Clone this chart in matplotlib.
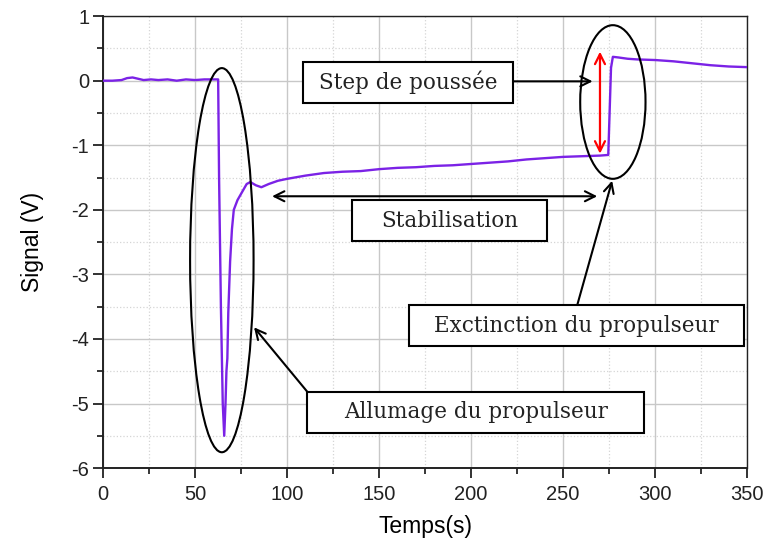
# import packages
import matplotlib.pyplot as plt
from matplotlib.patches import Ellipse, Rectangle
from matplotlib.ticker import MultipleLocator

plt.rcParams['axes.unicode_minus'] = False

# time (s) and signal (V)
temps = [0, 5, 10, 13, 16, 19, 22, 26, 30, 35, 40, 45, 50, 55, 60, 62.5,
         63, 64, 65, 65.8, 66.5, 67, 67.5, 68, 69, 70, 71, 73, 75, 78, 80,
         83, 86, 90, 95, 100, 110, 120, 130, 140, 150, 160, 170, 180, 190,
         200, 210, 220, 230, 240, 250, 260, 270, 274.5, 276, 277, 280, 285,
         290, 300, 310, 320, 330, 340, 350]
signal = [0.0, 0.0, 0.01, 0.04, 0.05, 0.03, 0.01, 0.02, 0.01, 0.02, 0.0,
          0.02, 0.01, 0.02, 0.02, 0.02,
          -1.5, -3.5, -5.0, -5.5, -5.0, -4.5, -4.3, -3.6, -2.8, -2.3, -2.0,
          -1.85, -1.75, -1.6, -1.57,
          -1.62, -1.65, -1.6, -1.55, -1.52, -1.47, -1.43, -1.41, -1.40, -1.37,
          -1.35, -1.34, -1.32, -1.31, -1.29, -1.27, -1.25, -1.22, -1.2, -1.18,
          -1.17, -1.16, -1.15, 0.2, 0.37, 0.36, 0.34, 0.33, 0.32, 0.3, 0.27,
          0.24, 0.22, 0.21]

# annotation texts
labels = ['Step de poussée', 'Stabilisation',
          'Exctinction du propulseur', 'Allumage du propulseur']

fig = plt.figure(figsize=(7.64, 5.38), dpi=100)
ax = fig.add_axes([0.135, 0.13, 0.843, 0.84])

ax.plot(temps, signal, color='#7b22e6', lw=1.7, zorder=3)

ax.set_xlim(0, 350)
ax.set_ylim(-6, 1)
ax.xaxis.set_major_locator(MultipleLocator(50))
ax.xaxis.set_minor_locator(MultipleLocator(25))
ax.yaxis.set_major_locator(MultipleLocator(1))
ax.yaxis.set_minor_locator(MultipleLocator(0.5))

# grid: solid major, dotted minor
ax.grid(which='major', color='#c8c8c8', lw=1.0, ls='-')
ax.grid(which='minor', color='#d5d5d5', lw=0.9, ls=':')
ax.set_axisbelow(True)

ax.tick_params(which='major', direction='out', length=7, width=1.3,
               labelsize=14.5, top=False, right=False, colors='#222222')
ax.tick_params(which='minor', direction='out', length=4, width=1.1,
               top=False, right=False)
ax.tick_params(axis='x', which='major', pad=5)
ax.tick_params(axis='y', which='major', pad=3)
for lab in ax.get_xticklabels() + ax.get_yticklabels():
    lab.set_family('Liberation Sans')
for s in ax.spines.values():
    s.set_linewidth(1.4)
    s.set_color('#222222')
ax.spines['top'].set_linewidth(1.0)
ax.spines['right'].set_linewidth(1.0)

ax.set_xlabel('Temps(s)', fontsize=16.5, family='Liberation Sans', labelpad=8)
ax.set_ylabel('Signal (V)', fontsize=16.5, family='Liberation Sans', labelpad=20)

# ellipses around the ignition and the shutdown
ax.add_patch(Ellipse((64.5, -2.78), 34.5, 5.95, fill=False, ec='black', lw=1.5, zorder=4))
ax.add_patch(Ellipse((277, -0.33), 35.5, 2.38, fill=False, ec='black', lw=1.5, zorder=4))

# red double arrow for the thrust step
ax.annotate('', xy=(270, 0.45), xytext=(270, -1.13),
            arrowprops=dict(arrowstyle='<->', color='red', lw=1.6,
                            mutation_scale=18, shrinkA=0, shrinkB=0))

# boxes with text
boxes = [(108.7, -0.34, 114.1, 0.63, 165.7, -0.02),
         (135.3, -2.48, 106.0, 0.63, 188.3, -2.17),
         (166.0, -4.11, 182.0, 0.63, 257.0, -3.80),
         (111.0, -5.45, 183.0, 0.63, 202.5, -5.13)]
for (x0, y0, w, h, tx, ty), txt in zip(boxes, labels):
    ax.add_patch(Rectangle((x0, y0), w, h, fill=True, fc='white', ec='black',
                           lw=1.5, zorder=5))
    ax.text(tx, ty, txt, ha='center', va='center', fontsize=15.5,
            family='DejaVu Serif', color='#222222', zorder=6)

arrow_kw = dict(arrowstyle='->', color='black', lw=1.5, mutation_scale=18,
                shrinkA=0, shrinkB=0)
# step arrow
ax.annotate('', xy=(266, -0.01), xytext=(222.8, -0.01), arrowprops=arrow_kw)
# stabilisation double arrow
ax.annotate('', xy=(268.5, -1.79), xytext=(91.8, -1.79),
            arrowprops=dict(arrow_kw, arrowstyle='<->'))
# extinction arrow
ax.annotate('', xy=(276.6, -1.55), xytext=(257.6, -3.48), arrowprops=arrow_kw)
# ignition arrow
ax.annotate('', xy=(82, -3.82), xytext=(111, -4.82), arrowprops=arrow_kw)

fig.savefig('out.png', dpi=100)
